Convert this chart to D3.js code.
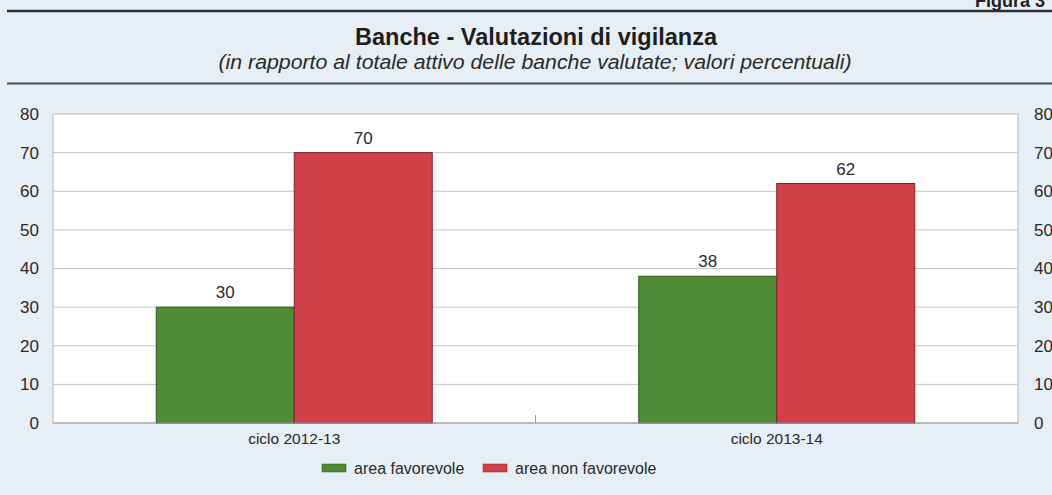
<!DOCTYPE html>
<html>
<head>
<meta charset="utf-8">
<script src="https://cdn.jsdelivr.net/npm/d3@7"></script>
<style>
  html, body { margin: 0; padding: 0; background: #e6eef6; overflow: hidden; }
  svg { display: block; font-family: "Liberation Sans", Arial, sans-serif; }
</style>
</head>
<body>
<svg id="chart" width="1052" height="495"></svg>
<script>
// Data
const categories = ["ciclo 2012-13", "ciclo 2013-14"];
const seriesNames = ["area favorevole", "area non favorevole"];
const favorevole = [30, 38];
const nonFavorevole = [70, 62];
const yTicks = [0, 10, 20, 30, 40, 50, 60, 70, 80];

const colors = ["#4f8a36", "#d2404a"];
const strokes = ["#2f5a22", "#7a2228"];

const svg = d3.select("#chart");
const W = 1052, H = 495;
const narrow = "'Liberation Sans Narrow', 'Liberation Sans', Arial, sans-serif";

svg.append("rect").attr("width", W).attr("height", H).attr("fill", "#e6eef6");

// Header
svg.append("text").attr("x", 975).attr("y", 7)
  .attr("font-size", 18).attr("font-weight", "bold").attr("fill", "#222")
  .attr("font-family", narrow)
  .text("Figura 3");
svg.append("line").attr("x1", 7).attr("x2", W).attr("y1", 11).attr("y2", 11)
  .attr("stroke", "#2a2f36").attr("stroke-width", 2.5);
svg.append("text").attr("x", 536).attr("y", 45).attr("text-anchor", "middle")
  .attr("font-size", 24).attr("font-weight", "bold").attr("fill", "#1e1e1e")
  .attr("font-family", narrow)
  .attr("textLength", 362).attr("lengthAdjust", "spacingAndGlyphs")
  .text("Banche - Valutazioni di vigilanza");
svg.append("text").attr("x", 535).attr("y", 69).attr("text-anchor", "middle")
  .attr("font-size", 20).attr("font-style", "italic").attr("fill", "#2a2a2a")
  .attr("font-family", narrow)
  .attr("textLength", 633).attr("lengthAdjust", "spacingAndGlyphs")
  .text("(in rapporto al totale attivo delle banche valutate; valori percentuali)");
svg.append("line").attr("x1", 7).attr("x2", W).attr("y1", 83.5).attr("y2", 83.5)
  .attr("stroke", "#4a5058").attr("stroke-width", 2);

// Plot area
const plot = { left: 53, right: 1018, top: 114, bottom: 423 };

const x0 = d3.scaleBand().domain(categories).range([plot.left, plot.right]).paddingInner(0).paddingOuter(0);
const x1 = d3.scaleBand().domain(seriesNames).range([0, x0.bandwidth() * 0.572]);
const y = d3.scaleLinear().domain([0, 80]).range([plot.bottom, plot.top]);

svg.append("rect").attr("x", plot.left).attr("y", plot.top)
  .attr("width", plot.right - plot.left).attr("height", plot.bottom - plot.top)
  .attr("fill", "#ffffff").attr("stroke", "#b8b8b8").attr("stroke-width", 1);

// Gridlines
svg.append("g").selectAll("line").data(yTicks.filter(d => d > 0 && d < 80)).join("line")
  .attr("x1", plot.left).attr("x2", plot.right)
  .attr("y1", d => y(d)).attr("y2", d => y(d))
  .attr("stroke", "#c4c4c4").attr("stroke-width", 1);

// Left and right axes
const axisL = d3.axisLeft(y).tickValues(yTicks).tickSize(0).tickPadding(14);
const gL = svg.append("g").attr("transform", `translate(${plot.left},0)`).call(axisL);
const axisR = d3.axisRight(y).tickValues(yTicks).tickSize(0).tickPadding(16);
const gR = svg.append("g").attr("transform", `translate(${plot.right},0)`).call(axisR);
[gL, gR].forEach(g => {
  g.select(".domain").remove();
  g.selectAll("text").attr("font-size", 17).attr("fill", "#2a2a2a")
    .attr("font-family", "Liberation Sans, Arial, sans-serif");
});

// Bars
const rows = categories.map((c, i) => ({ cat: c, values: [favorevole[i], nonFavorevole[i]] }));
const groupOffset = (x0.bandwidth() - x1.range()[1]) / 2;
const groups = svg.append("g").selectAll("g").data(rows).join("g")
  .attr("transform", d => `translate(${x0(d.cat) + groupOffset},0)`);

groups.selectAll("rect").data(d => d.values.map((v, k) => ({ name: seriesNames[k], v, k }))).join("rect")
  .attr("x", d => x1(d.name)).attr("y", d => y(d.v))
  .attr("width", x1.bandwidth()).attr("height", d => y(0) - y(d.v))
  .attr("fill", d => colors[d.k]).attr("stroke", d => strokes[d.k]).attr("stroke-width", 1);

groups.selectAll("text.val").data(d => d.values.map((v, k) => ({ name: seriesNames[k], v, k }))).join("text")
  .attr("class", "val")
  .attr("x", d => x1(d.name) + x1.bandwidth() / 2).attr("y", d => y(d.v) - 9)
  .attr("text-anchor", "middle").attr("font-size", 17).attr("fill", "#2a2a2a")
  .text(d => d.v);

// Category axis
svg.append("line").attr("x1", plot.left).attr("x2", plot.right)
  .attr("y1", plot.bottom).attr("y2", plot.bottom).attr("stroke", "#9a9a9a");
svg.append("line").attr("x1", x0(categories[1])).attr("x2", x0(categories[1]))
  .attr("y1", plot.bottom - 8).attr("y2", plot.bottom).attr("stroke", "#9a9a9a");
svg.append("g").selectAll("text").data(categories).join("text")
  .attr("x", d => x0(d) + x0.bandwidth() / 2).attr("y", 444)
  .attr("text-anchor", "middle").attr("font-size", 15.5).attr("fill", "#2a2a2a")
  .text(d => d);

// Legend
const legendX = [322, 483];
const legend = svg.append("g").selectAll("g").data(seriesNames).join("g")
  .attr("transform", (d, i) => `translate(${legendX[i]},468)`);
legend.append("rect").attr("x", 0).attr("y", -4).attr("width", 24).attr("height", 8)
  .attr("fill", (d, i) => colors[i]).attr("stroke", (d, i) => strokes[i]).attr("stroke-width", 0.5);
legend.append("text").attr("x", 32).attr("y", 6).attr("font-size", 16).attr("fill", "#2a2a2a")
  .text(d => d);
</script>
</body>
</html>
